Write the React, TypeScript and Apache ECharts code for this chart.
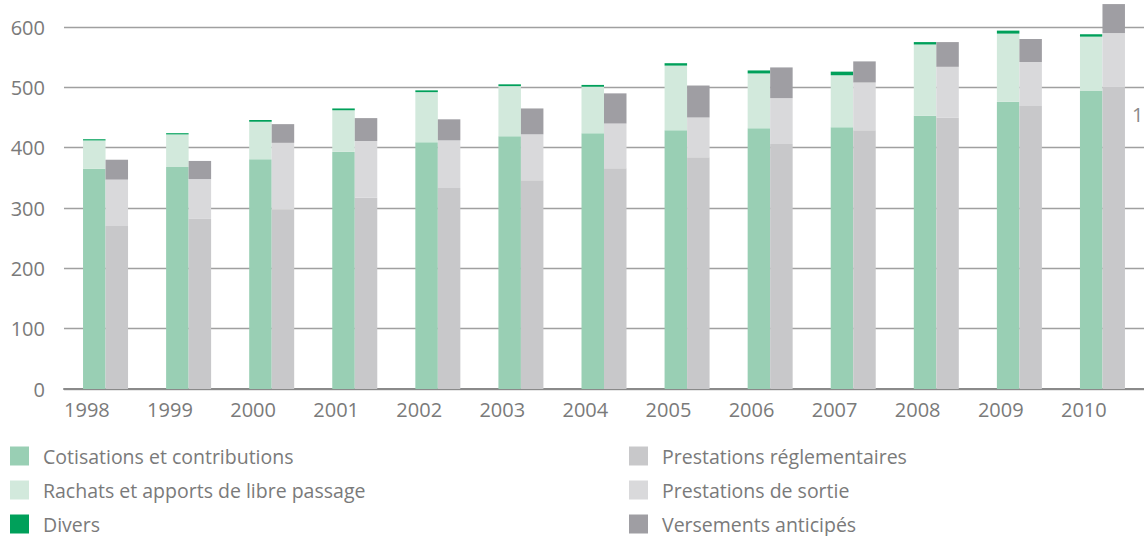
import React, { useEffect, useRef } from "react";
import * as echarts from "echarts";

const years = ["1998", "1999", "2000", "2001", "2002", "2003", "2004", "2005", "2006", "2007", "2008", "2009", "2010"];
const cotisations = [365, 368, 381, 393, 409, 419, 424, 429, 432, 434, 453, 476, 494];
const rachats = [47, 54, 62, 69, 83, 83, 77, 107, 91, 86, 118, 113, 90];
const divers = [2, 2, 3, 3, 3, 3, 3, 4, 5, 6, 4, 5, 4];
const reglementaires = [270, 282, 298, 317, 333, 346, 366, 384, 406, 429, 450, 469, 501];
const sortie = [77, 66, 110, 94, 79, 76, 74, 66, 76, 79, 84, 73, 89];
const versements = [33, 30, 31, 38, 35, 43, 50, 53, 51, 35, 41, 38, 48];
const yTicks = { min: 0, max: 600, interval: 100 };
const legendLeftCol = ["Cotisations et contributions", "Rachats et apports de libre passage", "Divers"];
const legendRightCol = ["Prestations réglementaires", "Prestations de sortie", "Versements anticipés"];

const FONT = "'Open Sans', 'Noto Sans', sans-serif";

export default function App() {
  const ref = useRef<HTMLDivElement>(null);
  useEffect(() => {
    document.body.style.margin = "0";
    if (!ref.current) return;
    const chart = echarts.init(ref.current, undefined, { renderer: "svg" });
    const mk = (name: string, stack: string, data: number[], color: string) => ({
      name,
      type: "bar",
      stack,
      data,
      barWidth: 22.5,
      barGap: "0%",
      clip: false,
      itemStyle: { color },
      emphasis: { disabled: true },
    });
    const rowTops = [446, 480, 514];
    const legends: any[] = [];
    [legendLeftCol, legendRightCol].forEach((col, ci) => {
      col.forEach((name, ri) => {
        legends.push({
          left: ci === 0 ? 10 : 629,
          top: rowTops[ri],
          orient: "vertical",
          icon: "rect",
          itemWidth: 19,
          itemHeight: 19,
          padding: 0,
          selectedMode: false,
          textStyle: { fontSize: 19.5, fontFamily: FONT, color: "#7a7a7a", padding: [0, 0, 0, 9], lineHeight: 19 },
          data: [name],
        });
      });
    });
    chart.setOption({
      animation: false,
      grid: { left: 64, right: 0, top: 27, bottom: 147, containLabel: false },
      xAxis: {
        type: "category",
        data: years,
        axisLine: { lineStyle: { color: "#8a8a8a", width: 2 } },
        axisTick: { show: false },
        axisLabel: {
          interval: 0,
          margin: 10,
          formatter: (v: string) => `{a|${v}}`,
          rich: {
            a: { width: 83, align: "left", fontSize: 20, fontFamily: FONT, color: "#7a7a7a" },
          },
        },
      },
      yAxis: {
        type: "value",
        min: yTicks.min,
        max: yTicks.max,
        interval: yTicks.interval,
        axisLine: { show: false },
        axisTick: { show: false },
        axisLabel: { fontSize: 20, fontFamily: FONT, color: "#7a7a7a", margin: 19 },
        splitLine: { lineStyle: { color: "#a0a0a0", width: 1.3 } },
      },
      legend: legends,
      graphic: [
        {
          type: "text",
          left: 1132,
          top: 104,
          style: { text: "1", fontSize: 20, fontFamily: FONT, fill: "#8a8a8a" },
        },
      ],
      series: [
        mk("Cotisations et contributions", "in", cotisations, "#99cfb4"),
        mk("Rachats et apports de libre passage", "in", rachats, "#d2e9dc"),
        mk("Divers", "in", divers, "#00a05a"),
        mk("Prestations réglementaires", "out", reglementaires, "#c8c8ca"),
        mk("Prestations de sortie", "out", sortie, "#d9d9db"),
        mk("Versements anticipés", "out", versements, "#9f9ea3"),
      ],
    });
    return () => chart.dispose();
  }, []);
  return <div ref={ref} style={{ width: 1144, height: 536, overflow: "hidden" }} />;
}
